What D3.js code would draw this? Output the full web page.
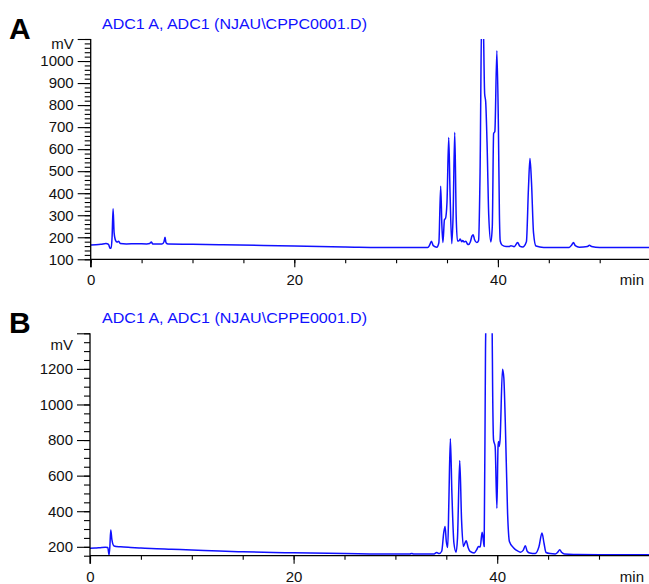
<!DOCTYPE html>
<html>
<head>
<meta charset="utf-8">
<script src="https://cdn.jsdelivr.net/npm/d3@7"></script>
<style>
  body { margin: 0; background: #fff; }
  svg { display: block; font-family: "Liberation Sans", Arial, sans-serif; }
</style>
</head>
<body>
<svg id="chart" width="649" height="584"></svg>
<script>
// chromatogram A (time in min, signal in mV)
var traceA = [
  [0, 165], [0.5, 166], [1.0, 168], [1.5, 172], [1.75, 168], [1.9, 150], [2.0, 152],
  [2.1, 200], [2.2, 330], [2.3, 220], [2.45, 185], [2.6, 178], [2.75, 182], [2.9, 172],
  [3.5, 170], [4.5, 171], [5.5, 170], [5.8, 172], [5.95, 178], [6.1, 170], [7.0, 169],
  [7.2, 180], [7.3, 200], [7.4, 175], [7.6, 169], [10, 168], [13, 166], [20, 160],
  [25, 156], [30, 153], [33.1, 153], [33.3, 165], [33.47, 182], [33.65, 162], [34.0, 155],
  [34.2, 175], [34.38, 432], [34.5, 250], [34.6, 176], [34.75, 280], [34.85, 285],
  [35.0, 360], [35.17, 653], [35.3, 400], [35.47, 171], [35.6, 300], [35.76, 677],
  [35.9, 300], [36.03, 183], [36.2, 185], [36.29, 192], [36.45, 180], [36.55, 185],
  [36.68, 179], [36.85, 182], [37.0, 170], [37.11, 167], [37.3, 180], [37.45, 205],
  [37.57, 212], [37.7, 190], [37.93, 176], [38.1, 185], [38.25, 500], [38.42, 1250],
  [38.55, 1200], [38.7, 850], [38.8, 815], [38.95, 600], [39.1, 300], [39.31, 179],
  [39.45, 250], [39.58, 671], [39.7, 680], [39.9, 1047], [40.05, 700], [40.15, 300],
  [40.23, 183], [40.4, 165], [40.8, 158], [41.1, 158], [41.28, 162], [41.6, 157],
  [41.94, 176], [42.15, 160], [42.43, 156], [42.8, 180], [43.0, 420], [43.15, 558],
  [43.3, 450], [43.5, 220], [43.74, 160], [44.5, 154], [47.0, 154], [47.25, 165],
  [47.42, 176], [47.6, 162], [48.0, 155], [48.8, 158], [48.99, 164], [49.2, 158],
  [50, 154], [55, 153]
];

// chromatogram B
var traceB = [
  [0, 192], [0.5, 193], [1.0, 195], [1.5, 197], [1.75, 196], [1.87, 155], [1.95, 200],
  [2.04, 295], [2.15, 240], [2.36, 205], [3, 200], [4, 196], [5, 193], [6, 190],
  [8, 186], [10, 182], [12.7, 176], [15, 172], [18, 168], [20, 166], [25, 162],
  [30, 159], [31.4, 159], [31.6, 163], [31.8, 159], [33.8, 160], [34.06, 168],
  [34.3, 162], [34.55, 175], [34.75, 280], [34.88, 314], [35.0, 230], [35.14, 196],
  [35.25, 450], [35.4, 807], [35.55, 500], [35.75, 220], [35.96, 170], [36.1, 250],
  [36.32, 685], [36.5, 350], [36.68, 202], [36.95, 234], [37.15, 195], [37.34, 174],
  [37.73, 165], [38.0, 185], [38.16, 202], [38.33, 199], [38.52, 282], [38.65, 230],
  [38.72, 202], [38.85, 1300], [39.0, 1700], [39.2, 1800], [39.4, 1650], [39.5, 1450],
  [39.55, 1100], [39.64, 801], [39.8, 763], [39.97, 417], [40.08, 760], [40.13, 792],
  [40.2, 764], [40.28, 800], [40.52, 1198], [40.65, 1150], [40.79, 913], [41.02, 389],
  [41.2, 230], [41.6, 195], [41.9, 180], [42.27, 170], [42.55, 180], [42.76, 206],
  [42.95, 175], [43.2, 165], [43.74, 162], [44.1, 200], [44.4, 277], [44.6, 220],
  [44.8, 168], [45.2, 162], [45.7, 160], [45.95, 170], [46.14, 183], [46.35, 168],
  [46.6, 160], [47.5, 157], [50, 156], [55, 156]
];

var xDomain = [0, 55];
var xLabels = [0, 20, 40];
var yDomainA = [100, 1100];
var yLabelsA = [100, 200, 300, 400, 500, 600, 700, 800, 900, 1000];
var yDomainB = [150, 1400];
var yLabelsB = [200, 400, 600, 800, 1000, 1200];

var titleA = 'ADC1 A, ADC1 (NJAU\\CPPC0001.D)';
var titleB = 'ADC1 A, ADC1 (NJAU\\CPPE0001.D)';

var svg = d3.select('#chart');
var lineColor = '#1010ff';
var labelSize = '15px';

function drawPanel(opt) {
  var g = svg.append('g');

  var x = d3.scaleLinear().domain(xDomain).range([opt.left, opt.left + 55 * 10.18]);
  var y = d3.scaleLinear().domain(opt.yDomain).range([opt.bottom, opt.top]);

  // clip so the tall peaks are cut at the top of the frame
  var clipId = 'clip-' + opt.key;
  svg.append('clipPath').attr('id', clipId)
    .append('rect')
    .attr('x', opt.left).attr('y', opt.top)
    .attr('width', 649 - opt.left).attr('height', opt.bottom - opt.top);

  var line = d3.line()
    .x(d => x(d[0]))
    .y(d => y(d[1]))
    .curve(d3.curveMonotoneX);

  g.append('path')
    .datum(opt.data)
    .attr('clip-path', 'url(#' + clipId + ')')
    .attr('fill', 'none')
    .attr('stroke', lineColor)
    .attr('stroke-width', 1.5)
    .attr('stroke-linejoin', 'round')
    .attr('d', line);

  // x axis: minor ticks every 5 min, long ticks every 20
  var xMinor = d3.axisBottom(x).tickValues(d3.range(0, 56, 5)).tickSize(4).tickFormat('');
  var xMajor = d3.axisBottom(x).tickValues(xLabels).tickSize(8).tickPadding(6);

  var gx = g.append('g').attr('transform', 'translate(0,' + opt.bottom + ')');
  gx.call(xMinor);
  gx.select('.domain').remove();
  var gx2 = g.append('g').attr('transform', 'translate(0,' + opt.bottom + ')');
  gx2.call(xMajor);
  gx2.select('.domain').remove();
  gx2.selectAll('text')
    .attr('dy', null)
    .attr('y', 26)
    .style('font-size', labelSize)
    .style('font-family', '"Liberation Sans", Arial, sans-serif')
    .attr('fill', '#111');

  g.append('line')
    .attr('x1', opt.left).attr('x2', 649)
    .attr('y1', opt.bottom).attr('y2', opt.bottom)
    .attr('stroke', '#000').attr('stroke-width', 1.3);

  g.append('text')
    .attr('x', 644).attr('y', opt.bottom + 26)
    .attr('text-anchor', 'end')
    .style('font-size', labelSize)
    .attr('fill', '#111')
    .text('min');

  // y axis
  var yMinor = d3.axisLeft(y).tickValues(d3.range(opt.yDomain[0], opt.yDomain[1] + 1, opt.yMinorStep)).tickSize(6).tickFormat('');
  var yMajor = d3.axisLeft(y).tickValues(opt.yLabels.concat([opt.yDomain[1]])).tickSize(13).tickPadding(4)
    .tickFormat(d => d === opt.yDomain[1] ? '' : d);

  var gy = g.append('g').attr('transform', 'translate(' + opt.left + ',0)');
  gy.call(yMinor);
  gy.select('.domain').remove();
  var gy2 = g.append('g').attr('transform', 'translate(' + opt.left + ',0)');
  gy2.call(yMajor);
  gy2.select('.domain').remove();
  gy2.selectAll('text')
    .style('font-size', labelSize)
    .style('font-family', '"Liberation Sans", Arial, sans-serif')
    .attr('fill', '#111');

  g.append('line')
    .attr('x1', opt.left).attr('x2', opt.left)
    .attr('y1', opt.top).attr('y2', opt.bottom + 8)
    .attr('stroke', '#000').attr('stroke-width', 1.3);

  g.selectAll('.tick line').attr('stroke', '#000').attr('stroke-width', 1.1);

  g.append('text')
    .attr('x', opt.left - 17).attr('y', opt.top + opt.mvOffset)
    .attr('text-anchor', 'end')
    .style('font-size', labelSize)
    .attr('fill', '#111')
    .text('mV');

  // panel letter and run title
  g.append('text')
    .attr('x', 9).attr('y', opt.top)
    .style('font-size', '30px')
    .style('font-weight', 'bold')
    .attr('fill', '#000')
    .text(opt.letter);

  g.append('text')
    .attr('x', 102).attr('y', opt.titleY)
    .style('font-size', '14.5px')
    .attr('textLength', 265)
    .attr('lengthAdjust', 'spacingAndGlyphs')
    .attr('fill', lineColor)
    .text(opt.title);
}

drawPanel({
  key: 'a', letter: 'A', title: titleA, data: traceA,
  left: 90.7, top: 39, bottom: 259.3, titleY: 29,
  yDomain: yDomainA, yLabels: yLabelsA, yMinorStep: 20, mvOffset: 9.5
});

drawPanel({
  key: 'b', letter: 'B', title: titleB, data: traceB,
  left: 90, top: 333.3, bottom: 555.7, titleY: 323,
  yDomain: yDomainB, yLabels: yLabelsB, yMinorStep: 50, mvOffset: 17
});
</script>
</body>
</html>
